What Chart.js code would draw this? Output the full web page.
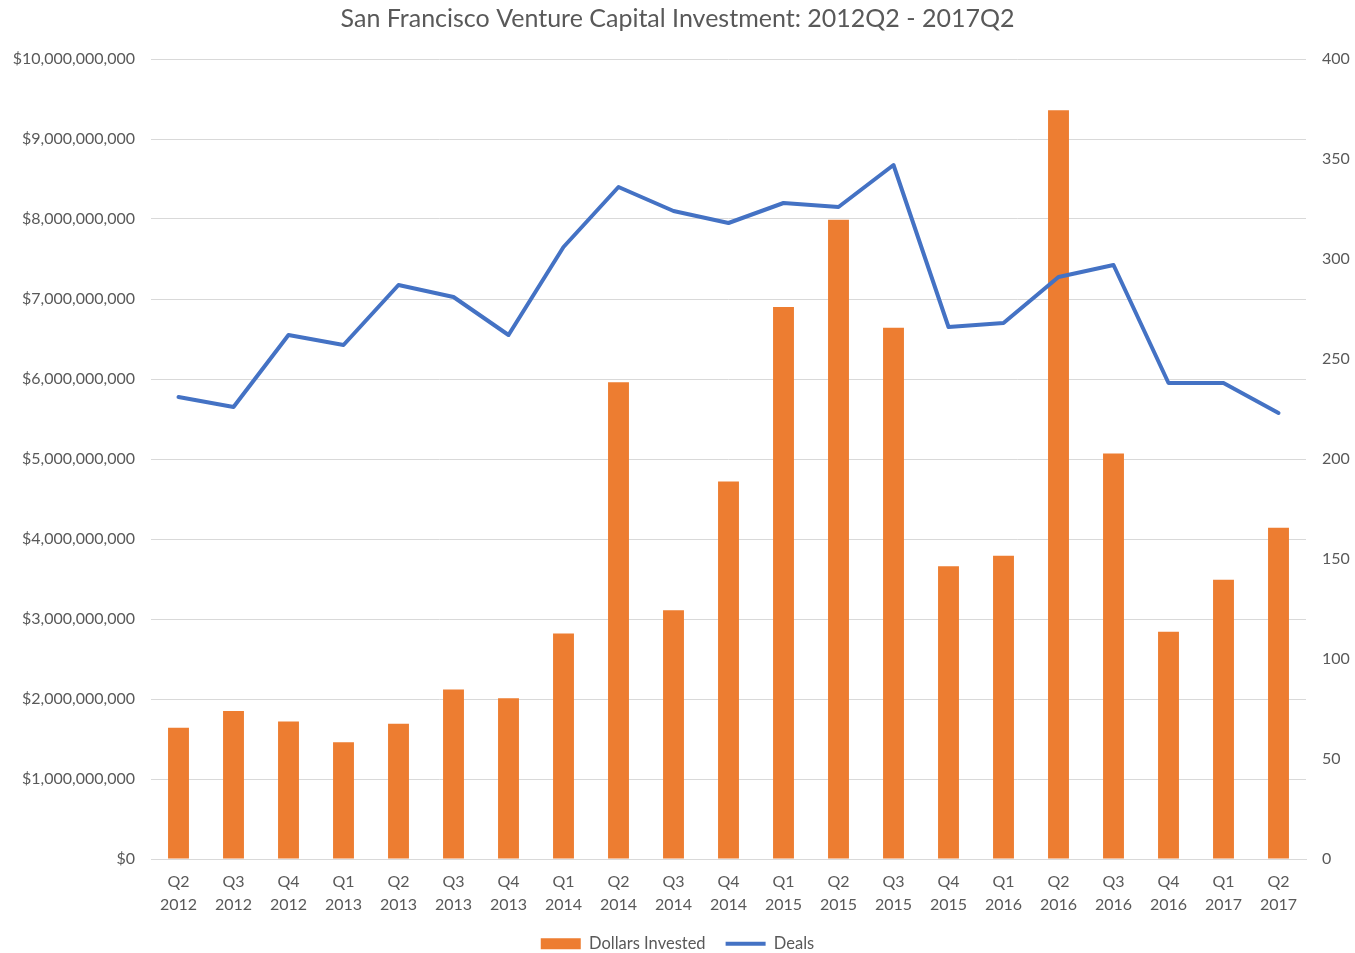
<!DOCTYPE html>
<html lang="en">
<head>
<meta charset="UTF-8">
<title>San Francisco Venture Capital Investment</title>
<script src="https://cdn.jsdelivr.net/npm/chart.js"></script>
<style>
  body { margin: 0; background: #fff; }
</style>
</head>
<body>
<canvas id="vcChart" width="1355" height="953"></canvas>
<script>
// quarters, from the x axis
const quarters = ['Q2','Q3','Q4','Q1','Q2','Q3','Q4','Q1','Q2','Q3','Q4','Q1','Q2','Q3','Q4','Q1','Q2','Q3','Q4','Q1','Q2'];
const years = ['2012','2012','2012','2013','2013','2013','2013','2014','2014','2014','2014','2015','2015','2015','2015','2016','2016','2016','2016','2017','2017'];

// dollars invested (left axis)
const dollarsInvested = [
  1.64e9, 1.85e9, 1.72e9, 1.46e9, 1.69e9, 2.12e9, 2.01e9,
  2.82e9, 5.96e9, 3.11e9, 4.72e9, 6.90e9, 7.99e9, 6.64e9,
  3.66e9, 3.79e9, 9.36e9, 5.07e9, 2.84e9, 3.49e9, 4.14e9
];

// number of deals (right axis)
const deals = [
  231, 226, 262, 257, 287, 281, 262,
  306, 336, 324, 318, 328, 326, 347,
  266, 268, 291, 297, 238, 238, 223
];

const labels = quarters.map((q, i) => [q, years[i]]);

const textColor = '#595959';
const gridColor = '#d9d9d9';
const fontFamily = 'Lato, "Open Sans", sans-serif';

const ctx = document.getElementById('vcChart').getContext('2d');
new Chart(ctx, {
  type: 'bar',
  data: {
    labels: labels,
    datasets: [
      {
        type: 'line',
        label: 'Deals',
        data: deals,
        yAxisID: 'y1',
        borderColor: '#4472C4',
        backgroundColor: '#4472C4',
        borderWidth: 4,
        pointRadius: 0,
        pointStyle: 'line',
        borderCapStyle: 'round',
        borderJoinStyle: 'round',
        tension: 0,
        order: 0
      },
      {
        label: 'Dollars Invested',
        data: dollarsInvested,
        yAxisID: 'y',
        backgroundColor: '#ED7D31',
        pointStyle: 'rect',
        categoryPercentage: 1,
        barPercentage: 0.38,
        order: 1
      }
    ]
  },
  options: {
    responsive: false,
    animation: false,
    // legend box has some empty room below it, push that past the bottom edge
    layout: { padding: { top: 0, left: 0, right: 0, bottom: -9 } },
    plugins: {
      title: {
        display: true,
        text: 'San Francisco Venture Capital Investment: 2012Q2 - 2017Q2',
        color: textColor,
        font: { family: fontFamily, size: 25, weight: 'normal' },
        padding: { top: 4, bottom: 25 }
      },
      legend: {
        position: 'bottom',
        reverse: true,
        labels: {
          usePointStyle: true,
          pointStyleWidth: 40,
          boxHeight: 11,
          color: textColor,
          font: { family: fontFamily, size: 16.5, lineHeight: 1 },
          padding: 20
        }
      },
      tooltip: { enabled: false }
    },
    scales: {
      x: {
        grid: { display: false, drawTicks: false },
        border: { color: gridColor },
        ticks: {
          color: textColor,
          font: { family: fontFamily, size: 16, lineHeight: 1.4 },
          maxRotation: 0,
          padding: 12
        },
        afterFit(scale) { scale.height = 56.5; }
      },
      y: {
        position: 'left',
        min: 0,
        max: 10000000000,
        ticks: {
          stepSize: 1000000000,
          color: textColor,
          font: { family: fontFamily, size: 16 },
          padding: 16,
          callback: v => '$' + v.toLocaleString('en-US')
        },
        grid: { color: gridColor, drawTicks: false },
        border: { display: false },
        afterFit(scale) { scale.width = 151; }
      },
      y1: {
        position: 'right',
        min: 0,
        max: 400,
        ticks: {
          stepSize: 50,
          color: textColor,
          font: { family: fontFamily, size: 16 },
          padding: 16
        },
        grid: { display: false, drawTicks: false },
        border: { display: false },
        afterFit(scale) { scale.width = 49; }
      }
    }
  }
});
</script>
</body>
</html>
